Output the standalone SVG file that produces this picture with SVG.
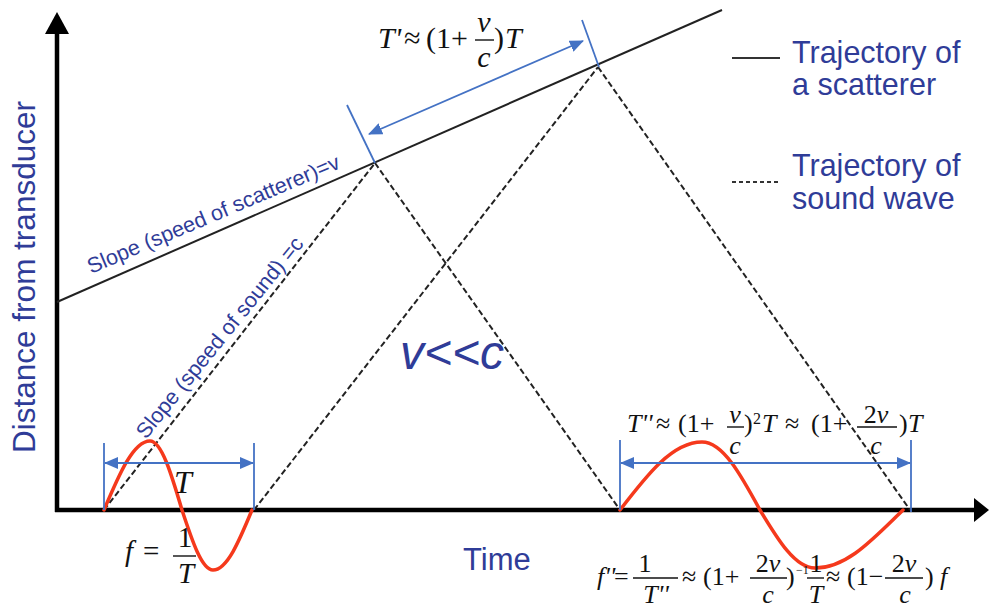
<svg xmlns="http://www.w3.org/2000/svg" width="989" height="613" viewBox="0 0 989 613">
<style>
.lbl{font-family:"Liberation Sans",Arial,sans-serif;fill:#2F3C98}
.m{font-family:"Liberation Serif","Times New Roman",serif;fill:#111}
.i{font-style:italic}
.bl{stroke:#4472C4;stroke-width:1.8;fill:none}
.bar{stroke:#111;stroke-width:1.4}
.dash{stroke:#222;stroke-width:2;stroke-dasharray:6 3;fill:none}
.wave{stroke:#F5391C;stroke-width:3.5;fill:none;stroke-linecap:round}
</style>
<defs>
<marker id="ah" viewBox="0 0 14 12" refX="13" refY="6" markerWidth="14" markerHeight="12" markerUnits="userSpaceOnUse" orient="auto-start-reverse">
<path d="M0,0 L14,6 L0,12 z" fill="#4472C4"/>
</marker>
</defs>
<rect width="989" height="613" fill="#fff"/>

<g id="axes">
<line x1="57" y1="512" x2="57" y2="30" stroke="#000" stroke-width="4.5"/>
<polygon points="57,12 45,34 69,34" fill="#000"/>
<line x1="55" y1="510" x2="978" y2="510" stroke="#000" stroke-width="4.5"/>
<polygon points="974,498 989,510 974,522" fill="#000"/>
<text class="lbl" font-size="31.5" transform="translate(35,277) rotate(-90)" text-anchor="middle">Distance from transducer</text>
<text class="lbl" font-size="31" x="463" y="570">Time</text>
</g>

<g id="connectors">
<line x1="57" y1="302" x2="722" y2="10" stroke="#222" stroke-width="2"/>
<line class="dash" x1="104" y1="510" x2="375" y2="163"/>
<line class="dash" x1="375" y1="163" x2="620" y2="510"/>
<line class="dash" x1="254" y1="510" x2="598" y2="67"/>
<line class="dash" x1="598" y1="67" x2="910" y2="510"/>
</g>

<g id="slope-labels">
<text class="lbl" font-size="21.5" textLength="272" lengthAdjust="spacingAndGlyphs" transform="translate(91,274) rotate(-23)">Slope (speed of scatterer)=v</text>
<text class="lbl" font-size="21.5" textLength="252" lengthAdjust="spacingAndGlyphs" transform="translate(146,440) rotate(-51)">Slope (speed of sound) =c</text>
<text class="lbl i" font-size="48" x="400" y="369">v&lt;&lt;c</text>
</g>

<g id="legend">
<line x1="732" y1="58" x2="780" y2="58" stroke="#333" stroke-width="2"/>
<text class="lbl" font-size="30.5" x="792" y="63">Trajectory of</text>
<text class="lbl" font-size="30.5" x="792" y="95">a scatterer</text>
<line x1="732" y1="182" x2="780" y2="182" stroke="#333" stroke-width="2" stroke-dasharray="4 3"/>
<text class="lbl" font-size="30.5" x="792" y="176">Trajectory of</text>
<text class="lbl" font-size="30.5" x="792" y="209">sound wave</text>
</g>

<g id="top-interval">
<line class="bl" x1="347" y1="105" x2="375" y2="163"/>
<line class="bl" x1="582" y1="20" x2="599" y2="67"/>
<line class="bl" x1="369" y1="134" x2="583" y2="41" marker-start="url(#ah)" marker-end="url(#ah)"/>
<g font-size="30">
<text class="m i" x="378" y="48">T'</text>
<text class="m" x="404" y="48">≈</text>
<text class="m" x="426" y="48">(1+</text>
<text class="m i" x="484" y="32" text-anchor="middle">v</text>
<line class="bar" x1="475" y1="40" x2="494" y2="40"/>
<text class="m i" x="484" y="67" text-anchor="middle">c</text>
<text class="m" x="494" y="48">)</text>
<text class="m i" x="505" y="48">T</text>
</g>
</g>

<g id="emitted-wave">
<path class="wave" d="M104,510 C119,474.7 133.3,441 150,441 C161.6,441 171.6,474.7 182,510 C192.1,540.7 201.8,570 213,570 C227.1,570 239.3,540.7 252,510"/>
<line class="bl" x1="104" y1="443" x2="104" y2="510"/>
<line class="bl" x1="254" y1="443" x2="254" y2="510"/>
<line class="bl" x1="105" y1="463" x2="253" y2="463" marker-start="url(#ah)" marker-end="url(#ah)"/>
<text class="m i" font-size="32" x="183" y="493" text-anchor="middle">T</text>
<g font-size="29">
<text class="m i" x="125" y="561">f</text>
<text class="m" x="143" y="561">=</text>
<text class="m" x="185" y="547" text-anchor="middle">1</text>
<line class="bar" x1="173" y1="556" x2="196" y2="556"/>
<text class="m i" x="186" y="583" text-anchor="middle">T</text>
</g>
</g>

<g id="received-wave">
<path class="wave" d="M620,510 C646.7,475.2 672.3,442 702,442 C723,442 741.1,475.2 760,510 C777.9,539.7 795.1,568 815,568 C846.9,568 872.3,539.7 903,510"/>
<line class="bl" x1="620" y1="440" x2="620" y2="510"/>
<line class="bl" x1="911" y1="440" x2="911" y2="512"/>
<line class="bl" x1="621" y1="463" x2="910" y2="463" marker-start="url(#ah)" marker-end="url(#ah)"/>
<g font-size="26">
<text class="m i" x="627" y="432">T''</text>
<text class="m" x="656" y="432">≈</text>
<text class="m" x="678" y="432">(1+</text>
<text class="m i" x="735" y="423" text-anchor="middle">v</text>
<line class="bar" x1="727" y1="427" x2="744" y2="427"/>
<text class="m i" x="735" y="454" text-anchor="middle">c</text>
<text class="m" x="744" y="432">)</text>
<text class="m" x="753" y="424" font-size="16">2</text>
<text class="m i" x="762" y="432">T</text>
<text class="m" x="785" y="432">≈</text>
<text class="m" x="811" y="432">(1+</text>
<text class="m" x="876" y="423" text-anchor="middle">2<tspan class="i">v</tspan></text>
<line class="bar" x1="857" y1="427" x2="897" y2="427"/>
<text class="m i" x="876" y="454" text-anchor="middle">c</text>
<text class="m" x="899" y="432">)</text>
<text class="m i" x="908" y="432">T</text>

<text class="m i" x="597" y="585">f''</text>
<text class="m" x="614" y="585">=</text>
<text class="m" x="645" y="572" text-anchor="middle">1</text>
<line class="bar" x1="633" y1="578" x2="678" y2="578"/>
<text class="m i" x="656" y="603" text-anchor="middle">T''</text>
<text class="m" x="682" y="585">≈</text>
<text class="m" x="703" y="585">(1+</text>
<text class="m" x="768" y="572" text-anchor="middle">2<tspan class="i">v</tspan></text>
<line class="bar" x1="750" y1="578" x2="787" y2="578"/>
<text class="m i" x="768" y="603" text-anchor="middle">c</text>
<text class="m" x="786" y="585">)</text>
<text class="m" x="796" y="574" font-size="12">−1</text>
<text class="m" x="816" y="572" text-anchor="middle">1</text>
<line class="bar" x1="807" y1="578" x2="824" y2="578"/>
<text class="m i" x="816" y="603" text-anchor="middle">T</text>
<text class="m" x="826" y="585">≈</text>
<text class="m" x="847" y="585">(1−</text>
<text class="m" x="904" y="572" text-anchor="middle">2<tspan class="i">v</tspan></text>
<line class="bar" x1="885" y1="578" x2="923" y2="578"/>
<text class="m i" x="905" y="603" text-anchor="middle">c</text>
<text class="m" x="925" y="585">)</text>
<text class="m i" x="940" y="585">f</text>
</g>
</g>
</svg>
